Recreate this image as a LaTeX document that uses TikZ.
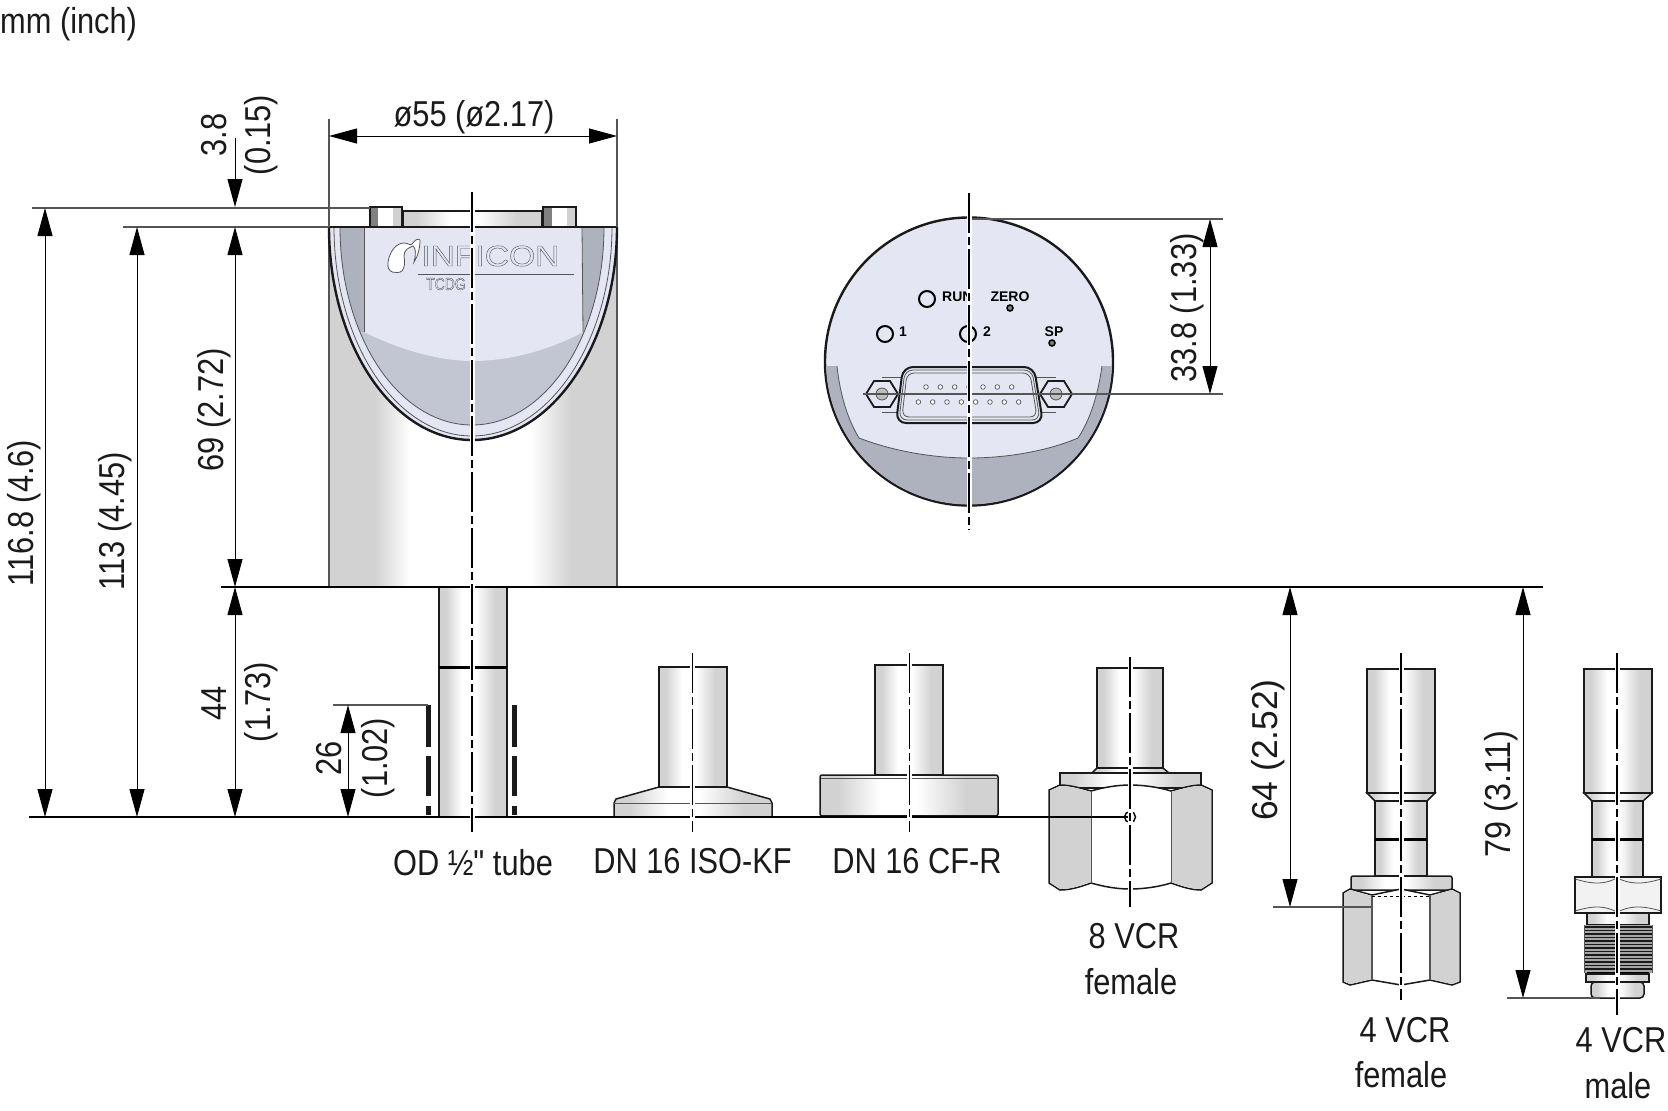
\documentclass[tikz,border=0pt]{standalone}
\usepackage{fontspec}
\setmainfont{Liberation Sans}
\newfontfamily\dimfont{Liberation Sans}[FakeStretch=0.855]
\newfontfamily\plainsans{Liberation Sans}
\usetikzlibrary{arrows.meta}
\definecolor{face}{HTML}{E4E7F3}
\definecolor{bandgray}{HTML}{C2C6D2}
\definecolor{darkgray}{HTML}{AEB2BE}
\definecolor{metal}{HTML}{D2D2D2}
\definecolor{extgray}{HTML}{555555}
\definecolor{inkblack}{HTML}{1A1A1A}
\pgfdeclarehorizontalshading{tubeshade}{100bp}{color(0bp)=(metal); color(25bp)=(metal); color(30bp)=(metal); color(42bp)=(white); color(52bp)=(white); color(66bp)=(metal); color(75bp)=(metal); color(100bp)=(metal)}
\pgfdeclarehorizontalshading{bodyshade}{100bp}{color(0bp)=(metal); color(25bp)=(metal); color(33bp)=(metal); color(39bp)=(white); color(60bp)=(white); color(67bp)=(metal); color(75bp)=(metal); color(100bp)=(metal)}
\tikzset{
  x=1pt,y=-1pt,
  outline/.style={draw=inkblack,line width=1.5pt},
  tubepart/.style={outline,shade,shading=tubeshade},
  bodypart/.style={draw=extgray,line width=1.2pt,shade,shading=bodyshade},
  hexface/.style={outline,fill=white},
  thinedge/.style={draw=extgray,line width=0.8pt},
  extline/.style={draw=extgray,line width=1.2pt},
  baseline/.style={draw=black,line width=1.2pt},
  dimline/.style={draw=black,line width=1pt,{Triangle[length=28pt,width=15pt]}-{Triangle[length=28pt,width=15pt]}},
  dimdown/.style={draw=black,line width=1pt,-{Triangle[length=28pt,width=15pt]}},
  dimtext/.style={font=\dimfont\fontsize{36}{40}\selectfont,text=inkblack,inner sep=0pt},
  vtext/.style={dimtext,rotate=90},
  panellabel/.style={font=\plainsans\bfseries\fontsize{14}{16}\selectfont,inner sep=0pt},
  halo/.style={draw=white,line width=5pt},
  axisline/.style={draw=black,line width=1.2pt,dash pattern=on 40pt off 4pt on 8pt off 4pt},
  band/.style={draw=black,line width=3pt},
  led/.style={draw=black,line width=2pt,fill=face},
  pin/.style={draw=extgray,line width=0.7pt,fill=white}
}
\begin{document}
\begin{tikzpicture}
\useasboundingbox (0,0) rectangle (1668,1111);
\fill[white] (0,0) rectangle (1668,1111);
% ---- main housing
\path[bodypart] (329,227) rectangle (617,587);
\fill[face] (329,227) .. controls (329,345) and (393,440) .. (472,440) .. controls (551,440) and (617,345) .. (617,227) -- cycle;
\begin{scope}
\clip (340,227) .. controls (340,337) and (399,425) .. (472,425) .. controls (545,425) and (604,337) .. (604,227) -- cycle;
\fill[bandgray] (329,227) rectangle (617,440);
\fill[darkgray] (335,227) rectangle (364,332);
\fill[darkgray] (582,227) -- (583,332) -- (610,332) -- (610,227) -- cycle;
\end{scope}
\draw[thinedge] (340,227) .. controls (340,337) and (399,425) .. (472,425) .. controls (545,425) and (604,337) .. (604,227);
\draw[thinedge] (334,227) .. controls (334,342) and (396,436) .. (472,436) .. controls (548,436) and (612,342) .. (612,227);
\draw[draw=inkblack,line width=2.4pt] (329,227) .. controls (329,345) and (393,440) .. (472,440) .. controls (551,440) and (617,345) .. (617,227);
\fill[face] (364,227) -- (364,332) .. controls (400,350) and (440,361) .. (472,361) .. controls (510,361) and (550,350) .. (583,332) -- (582,227) -- cycle;
\draw[thinedge] (364,227) -- (364,332);
\draw[thinedge] (582,227) -- (583,332);
% connector on top
\path[tubepart] (403,211) rectangle (542,227);
\path[outline,fill=metal] (370,207) rectangle (402,227);
\fill[gray] (371,208) rectangle (378,226);
\fill[white] (378,208) rectangle (393,226);
\path[outline,fill=metal] (543,207) rectangle (576,227);
\fill[gray] (544,208) rectangle (552,226);
\fill[white] (552,208) rectangle (567,226);
\draw[draw=inkblack,line width=2pt] (329,227) -- (617,227);
% logo
\node[inner sep=0pt,anchor=west,text=extgray] (logotext) at (421,256) {\scalebox{1.16}[1]{\fontsize{29}{30}\selectfont\special{pdf:code 1 Tr 0.4 w}INFICON\special{pdf:code 0 Tr}}};
\draw[draw=extgray,line width=0.8pt,fill=white] (388,262) .. controls (390,250) and (397,243) .. (404,243) .. controls (408,243) and (410,246) .. (412,244) .. controls (415,240) and (418,238) .. (420,240) .. controls (420,248) and (418,256) .. (414,262) .. controls (416,254) and (416,248) .. (413,246) .. controls (408,248) and (404,250) .. (404,256) .. controls (405,262) and (405,267) .. (402,271) .. controls (398,274) and (386,274) .. (388,262) -- cycle;
\draw[draw=extgray,line width=1pt] (418,274) -- (574,274);
\node[inner sep=0pt,anchor=west,text=extgray] (tcdgtext) at (426,284) {\scalebox{0.82}[1]{\fontsize{17}{18}\selectfont\special{pdf:code 1 Tr 0.4 w}TCDG\special{pdf:code 0 Tr}}};
% tube 1/2
\path[tubepart] (439,587) rectangle (507,817);
\draw[band] (439,667) -- (507,667);
\foreach \x in {428.5,514.7}{
  \draw[draw=inkblack,line width=4.7pt] (\x,705) -- (\x,747);
  \draw[draw=inkblack,line width=4.7pt] (\x,756) -- (\x,796);
  \draw[draw=inkblack,line width=4.7pt] (\x,806) -- (\x,815);
}
% ISO-KF
\path[tubepart] (659,667) rectangle (727,787);
\path[tubepart] (659,787) -- (727,787) -- (770,799) -- (772,803) -- (772,817) -- (614,817) -- (614,803) -- (616,799) -- cycle;
\draw[thinedge] (614,803) -- (772,803);
\draw[draw=inkblack,line width=2pt] (614,817) -- (772,817);
% CF-R
\path[tubepart] (875,665) rectangle (943,775);
\path[tubepart,rounded corners=2pt] (820,775) rectangle (998,816);
\draw[thinedge] (821,778) -- (997,778);
\draw[draw=inkblack,line width=2pt] (821,816) -- (997,816);
% 8 VCR
\path[tubepart] (1097,668) rectangle (1163,768);
\path[tubepart] (1097,768) -- (1163,768) -- (1169,773) -- (1092,773) -- cycle;
\path[tubepart] (1060,773) rectangle (1201,788);
\draw[hexface] (1049,790) -- (1060,785) .. controls (1070,785) and (1080,788) .. (1091,791) .. controls (1105,787) and (1118,785) .. (1130,785) .. controls (1143,785) and (1158,787) .. (1171,791) .. controls (1182,788) and (1192,785) .. (1201,785) -- (1212,790) -- (1212,883) -- (1201,890) .. controls (1192,890) and (1182,887) .. (1171,883) .. controls (1158,887) and (1143,889) .. (1130,889) .. controls (1118,889) and (1105,887) .. (1091,883) .. controls (1080,887) and (1070,890) .. (1060,890) -- (1049,883) -- cycle;
\fill[metal] (1050,790.5) -- (1060,786) .. controls (1070,786) and (1080,789) .. (1091,792) -- (1091,882) .. controls (1080,886) and (1070,889) .. (1060,889) -- (1050,882.5) -- cycle;
\fill[metal] (1211,790.5) -- (1201,786) .. controls (1192,786) and (1182,789) .. (1171,792) -- (1171,882) .. controls (1182,886) and (1192,889) .. (1201,889) -- (1211,882.5) -- cycle;
\draw[thinedge] (1091,791) -- (1091,883);
\draw[thinedge] (1171,791) -- (1171,883);
% 4 VCR female
\path[tubepart] (1367,669) -- (1435,669) -- (1435,793) -- (1367,793) -- cycle;
\path[tubepart] (1367,793) -- (1435,793) -- (1427,801) -- (1375,801) -- cycle;
\path[tubepart] (1375,801) rectangle (1427,876);
\draw[band] (1375,839) -- (1427,839);
\path[tubepart,rounded corners=2pt] (1351,876) rectangle (1452,890);
\draw[hexface] (1343,893) -- (1350,889) -- (1372,895) -- (1401,889) -- (1430,895) -- (1452,889) -- (1460,893) -- (1460,982) -- (1452,985) -- (1430,980) -- (1401,985) -- (1372,980) -- (1350,985) -- (1343,982) -- cycle;
\fill[metal] (1344,893.5) -- (1350,890) -- (1372,896) -- (1372,979) -- (1350,984) -- (1344,981.5) -- cycle;
\fill[metal] (1459,893.5) -- (1452,890) -- (1430,896) -- (1430,979) -- (1452,984) -- (1459,981.5) -- cycle;
\draw[thinedge,line width=1.1pt] (1372,895) -- (1372,980);
\draw[thinedge,line width=1.1pt] (1430,895) -- (1430,980);
\draw[draw=black,line width=0.9pt,dashed] (1372,896) -- (1430,896);
% 4 VCR male
\path[tubepart] (1584,669) rectangle (1652,793);
\path[tubepart] (1584,793) -- (1652,793) -- (1643,801) -- (1592,801) -- cycle;
\path[tubepart] (1592,801) rectangle (1643,877);
\draw[band] (1592,839) -- (1643,839);
\path[tubepart] (1587,913) rectangle (1649,925);
\fill[gray!70] (1584,925) rectangle (1652,973);
\foreach \y in {927,930.5,934,937.5,941,944.5,948,951.5,955,958.5,962,965.5,969}{
  \draw[draw=inkblack,line width=1.2pt] (1584,\y) -- (1652,\y);
}
\draw[thinedge] (1584,925) -- (1584,973);
\draw[thinedge] (1652,925) -- (1652,973);
\draw[draw=black,line width=2.5pt] (1587,973) -- (1649,973);
\path[tubepart] (1586,974) rectangle (1649,982);
\path[tubepart,rounded corners=4pt] (1591,982) -- (1644,982) -- (1644,998) -- (1591,998) -- cycle;
\draw[outline,fill=white!95!black] (1575,877) rectangle (1661,913);
\draw[thinedge] (1575,879) .. controls (1595,885) and (1605,884) .. (1617,878);
\draw[thinedge] (1661,879) .. controls (1641,885) and (1630,884) .. (1617,878);
\draw[thinedge] (1575,911) .. controls (1595,905) and (1605,906) .. (1617,912);
\draw[thinedge] (1661,911) .. controls (1641,905) and (1630,906) .. (1617,912);
% ---- front view
\draw[draw=inkblack,line width=2.4pt,fill=face] (969,361.5) circle [radius=144];
\begin{scope}
\clip (969,361.5) circle [radius=143];
\fill[darkgray] (820,366) -- (837,366) .. controls (840,395) and (848,420) .. (859,438) .. controls (890,450) and (930,458) .. (969,458) .. controls (1010,458) and (1050,450) .. (1078,438) .. controls (1090,420) and (1098,395) .. (1102,366) -- (1118,366) -- (1118,510) -- (820,510) -- cycle;
\end{scope}
\draw[thinedge] (837,366) .. controls (840,395) and (848,420) .. (859,438) .. controls (890,450) and (930,458) .. (969,458) .. controls (1010,458) and (1050,450) .. (1078,438) .. controls (1090,420) and (1098,395) .. (1102,366);
\draw[led] (927,299) circle [radius=8];
\draw[led] (885,334) circle [radius=8];
\draw[led] (968,334) circle [radius=8];
\node[panellabel,anchor=west] (runlabel) at (942,297) {RUN};
\node[panellabel] (zerolabel) at (1010,297) {ZERO};
\node[panellabel] (onelabel) at (903,332) {1};
\node[panellabel] (twolabel) at (987,332) {2};
\node[panellabel] (splabel) at (1054,332) {SP};
\draw[draw=black,line width=1.5pt,fill=gray] (1010,308) circle [radius=3];
\draw[draw=black,line width=1.5pt,fill=gray] (1052,343) circle [radius=3];
% sub-D
\draw[thinedge] (882,377) -- (1056,377);
\draw[thinedge] (882,412) -- (1056,412);
\draw[draw=inkblack,line width=2pt,fill=face,rounded corners=10pt] (903,367) -- (1034,367) -- (1043,423) -- (896,423) -- cycle;
\draw[thinedge,rounded corners=8pt] (905,370) -- (1032,370) -- (1040,420) -- (899,420) -- cycle;
\draw[thinedge,rounded corners=7pt] (907,373) -- (1030,373) -- (1037,417) -- (902,417) -- cycle;
\foreach \u in {348,391,434,477,519,562,605}{
  \draw[pin] ({810+\u/3},387) circle [radius=2.3];
}
\foreach \u in {325,368,411,454,497,540,583,626}{
  \draw[pin] ({810+\u/3},402) circle [radius=2.3];
}
\foreach \cx in {882,1056}{
  \draw[draw=inkblack,line width=1.8pt,fill=face] ({\cx-16},394) -- ({\cx-8},381) -- ({\cx+8},381) -- ({\cx+16},394) -- ({\cx+8},407) -- ({\cx-8},407) -- cycle;
  \draw[draw=extgray,line width=0.8pt,fill=gray!50] (\cx,394) circle [radius=6];
}
% ---- extension and dimension lines
\draw[extline] (329,119) -- (329,227);
\draw[extline] (617,119) -- (617,227);
\draw[extline] (32,208) -- (370,208);
\draw[extline] (123,227) -- (329,227);
\draw[baseline] (221,587) -- (1543,587);
\draw[baseline] (29,817) -- (1130,817);
\draw[extline] (333,705) -- (428,705);
\draw[extline] (969,219) -- (1223,219);
\draw[extline] (863,394) -- (1223,394);
\draw[extline] (1273,907) -- (1372,907);
\draw[extline] (1507,998) -- (1600,998);
\draw[dimline] (329,136) -- (617,136);
\draw[dimdown] (235,138) -- (235,207);
\draw[dimline] (45,208) -- (45,817);
\draw[dimline] (137,227) -- (137,817);
\draw[dimline] (235,227) -- (235,587);
\draw[dimline] (235,587) -- (235,817);
\draw[dimline] (348,705) -- (348,817);
\draw[dimline] (1210,219) -- (1210,394);
\draw[dimline] (1290,587) -- (1290,907);
\draw[dimline] (1523,587) -- (1523,998);
% small detail on 8 VCR
\draw[draw=black,line width=1.4pt] (1130,817) circle [radius=5.5];
% ---- axes
\foreach \cx/\ya/\yb in {472/192/832,692.6/653/832,909.3/653/832,1130/657/907,1401/653/1000,1617/653/1015,969/193/530}{
  \draw[halo] (\cx,\ya) -- (\cx,\yb);
  \draw[axisline] (\cx,\ya) -- (\cx,\yb);
}
% ---- texts
\node[dimtext,anchor=west] (unit) at (0,24) {mm (inch)};
\node[dimtext] (tdia) at (474,117) {ø55 (ø2.17)};
\node[vtext] (t38) at (214,135) {3.8};
\node[vtext] (t015) at (261,135) {(0.15)};
\node[vtext] (t1168) at (24,513) {116.8 (4.6)};
\node[vtext] (t113) at (115,521) {113 (4.45)};
\node[vtext] (t69) at (214,410) {69 (2.72)};
\node[vtext] (t44) at (214,703) {44};
\node[vtext] (t173) at (261,702) {(1.73)};
\node[vtext] (t26) at (329,758) {26};
\node[vtext] (t102) at (378,758) {(1.02)};
\node[vtext] (t338) at (1187,308) {33.8 (1.33)};
\node[vtext] (t64) at (1268,750) {\scalebox{1.15}[1]{64 (2.52)}};
\node[vtext] (t79) at (1501,794) {\scalebox{1.05}[1]{79 (3.11)}};
\node[dimtext] (lod) at (473,863) {OD ½" tube};
\node[dimtext] (lkf) at (692.6,861) {DN 16 ISO-KF};
\node[dimtext] (lcf) at (917,861) {DN 16 CF-R};
\node[dimtext] (lv8a) at (1134,936) {8 VCR};
\node[dimtext] (lv8b) at (1131,982) {female};
\node[dimtext] (lv4a) at (1405,1030) {4 VCR};
\node[dimtext] (lv4b) at (1401,1075) {female};
\node[dimtext] (lv4c) at (1621,1040) {4 VCR};
\node[dimtext] (lv4d) at (1618,1086) {male};
\end{tikzpicture}
\end{document}
